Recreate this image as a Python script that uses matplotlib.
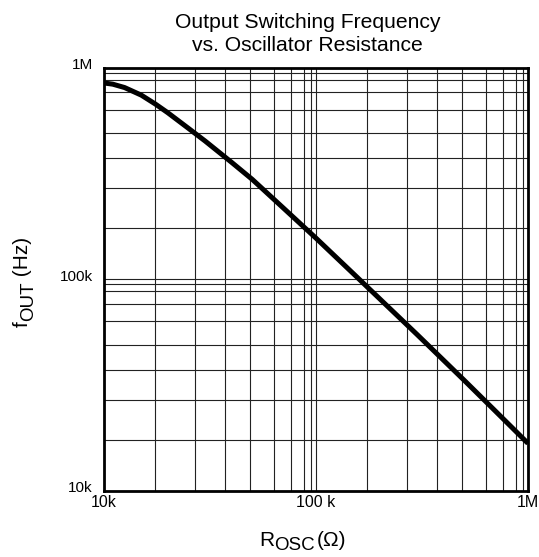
import numpy as np
import matplotlib
matplotlib.use("Agg")
import matplotlib.pyplot as plt
from matplotlib.ticker import FixedLocator, NullFormatter
import matplotlib.transforms as mtransforms

plt.rcParams['font.family'] = ['Liberation Sans', 'DejaVu Sans']

# Data
r_osc = [10e3, 11e3, 12.5e3, 15e3, 17.5e3, 20e3, 25e3, 30e3, 40e3, 50e3, 70e3, 100e3,
         150e3, 200e3, 300e3, 500e3, 700e3, 1e6]
f_out = [845e3, 834e3, 804e3, 740e3, 671e3, 611e3, 516e3, 449e3, 356e3, 296e3, 217e3, 156e3,
         106e3, 80.5e3, 54.6e3, 33.2e3, 23.8e3, 16.7e3]

x_ticks = [1e4, 1e5, 1e6]
x_tick_labels = ["10k", "100 k", "1M"]
y_ticks = [1e4, 1e5, 1e6]
y_tick_labels = ["10k", "100k", "1M"]

title_lines = ["Output Switching Frequency", "vs. Oscillator Resistance"]
xlabel_parts = ["R", "OSC", "(\u03a9)"]
ylabel_parts = ["f", "OUT", " (Hz)"]

# Grid layout of the reference (fractions of a decade where minor lines sit)
grid_frac = [0.239, 0.428, 0.572, 0.689, 0.801, 0.884, 0.943, 0.975]
minor_x = [10 ** (d + f) for d in (4, 5) for f in grid_frac]
minor_y = [10 ** (d + f) for d in (4, 5) for f in grid_frac]

W, H = 539, 557
fig = plt.figure(figsize=(W / 100, H / 100), dpi=100)
ax = fig.add_axes([104 / W, 1 - 490.5 / H, 424 / W, 423 / H])

ax.set_xscale('log')
ax.set_yscale('log')
ax.set_xlim(1e4, 1e6)
ax.set_ylim(1e4, 1e6)

ax.xaxis.set_major_locator(FixedLocator(x_ticks))
ax.yaxis.set_major_locator(FixedLocator(y_ticks))
ax.set_xticklabels(x_tick_labels, fontsize=11.5)
ax.set_yticklabels(y_tick_labels, fontsize=11)
ax.xaxis.set_minor_locator(FixedLocator(minor_x))
ax.yaxis.set_minor_locator(FixedLocator(minor_y))
ax.xaxis.set_minor_formatter(NullFormatter())
ax.yaxis.set_minor_formatter(NullFormatter())
ax.tick_params(which='both', length=0)
ax.tick_params(axis='x', pad=3)
ax.tick_params(axis='y', pad=8)
up = mtransforms.ScaledTranslation(0, 4 / 100, fig.dpi_scale_trans)
for lab in ax.get_yticklabels():
    lab.set_transform(lab.get_transform() + up)

ax.grid(which='both', color='#222222', linewidth=0.8)
ax.set_axisbelow(True)

for s in ax.spines.values():
    s.set_linewidth(2.0)
    s.set_color('black')

ax.plot(r_osc, f_out, color='black', linewidth=3.6, solid_capstyle='butt',
        solid_joinstyle='round', zorder=3)

def fx(px):
    return px / W

def fy(py):
    return 1 - py / H

# Title (two centred lines)
fig.text(fx(307.5), fy(28), title_lines[0], fontsize=15.2, ha='center', va='baseline')
fig.text(fx(307.5), fy(51), title_lines[1], fontsize=15.2, ha='center', va='baseline')

renderer = fig.canvas.get_renderer()

# X label: R + subscript OSC + (Ω)
main_fs, sub_fs = 15, 13.5
x0, base = 259, 546
t1 = fig.text(fx(x0), fy(base), xlabel_parts[0], fontsize=main_fs, ha='left', va='baseline')
e1 = t1.get_window_extent(renderer)
t2 = fig.text(e1.x1 / W, fy(base + 4), xlabel_parts[1], fontsize=sub_fs, ha='left', va='baseline')
e2 = t2.get_window_extent(renderer)
t3 = fig.text((e2.x1 + 2) / W, fy(base), xlabel_parts[2], fontsize=main_fs, ha='left', va='baseline')

# Y label (rotated): f + subscript OUT + (Hz)
yb, ystart = 28, 327
r1 = fig.text(fx(yb), fy(ystart), ylabel_parts[0], fontsize=main_fs, rotation=90,
              rotation_mode='anchor', ha='left', va='baseline')
g1 = r1.get_window_extent(renderer)
r2 = fig.text(fx(yb + 5), g1.y1 / H, ylabel_parts[1], fontsize=sub_fs, rotation=90,
              rotation_mode='anchor', ha='left', va='baseline')
g2 = r2.get_window_extent(renderer)
r3 = fig.text(fx(yb), g2.y1 / H, ylabel_parts[2], fontsize=main_fs, rotation=90,
              rotation_mode='anchor', ha='left', va='baseline')

fig.savefig("out.png", dpi=100)
